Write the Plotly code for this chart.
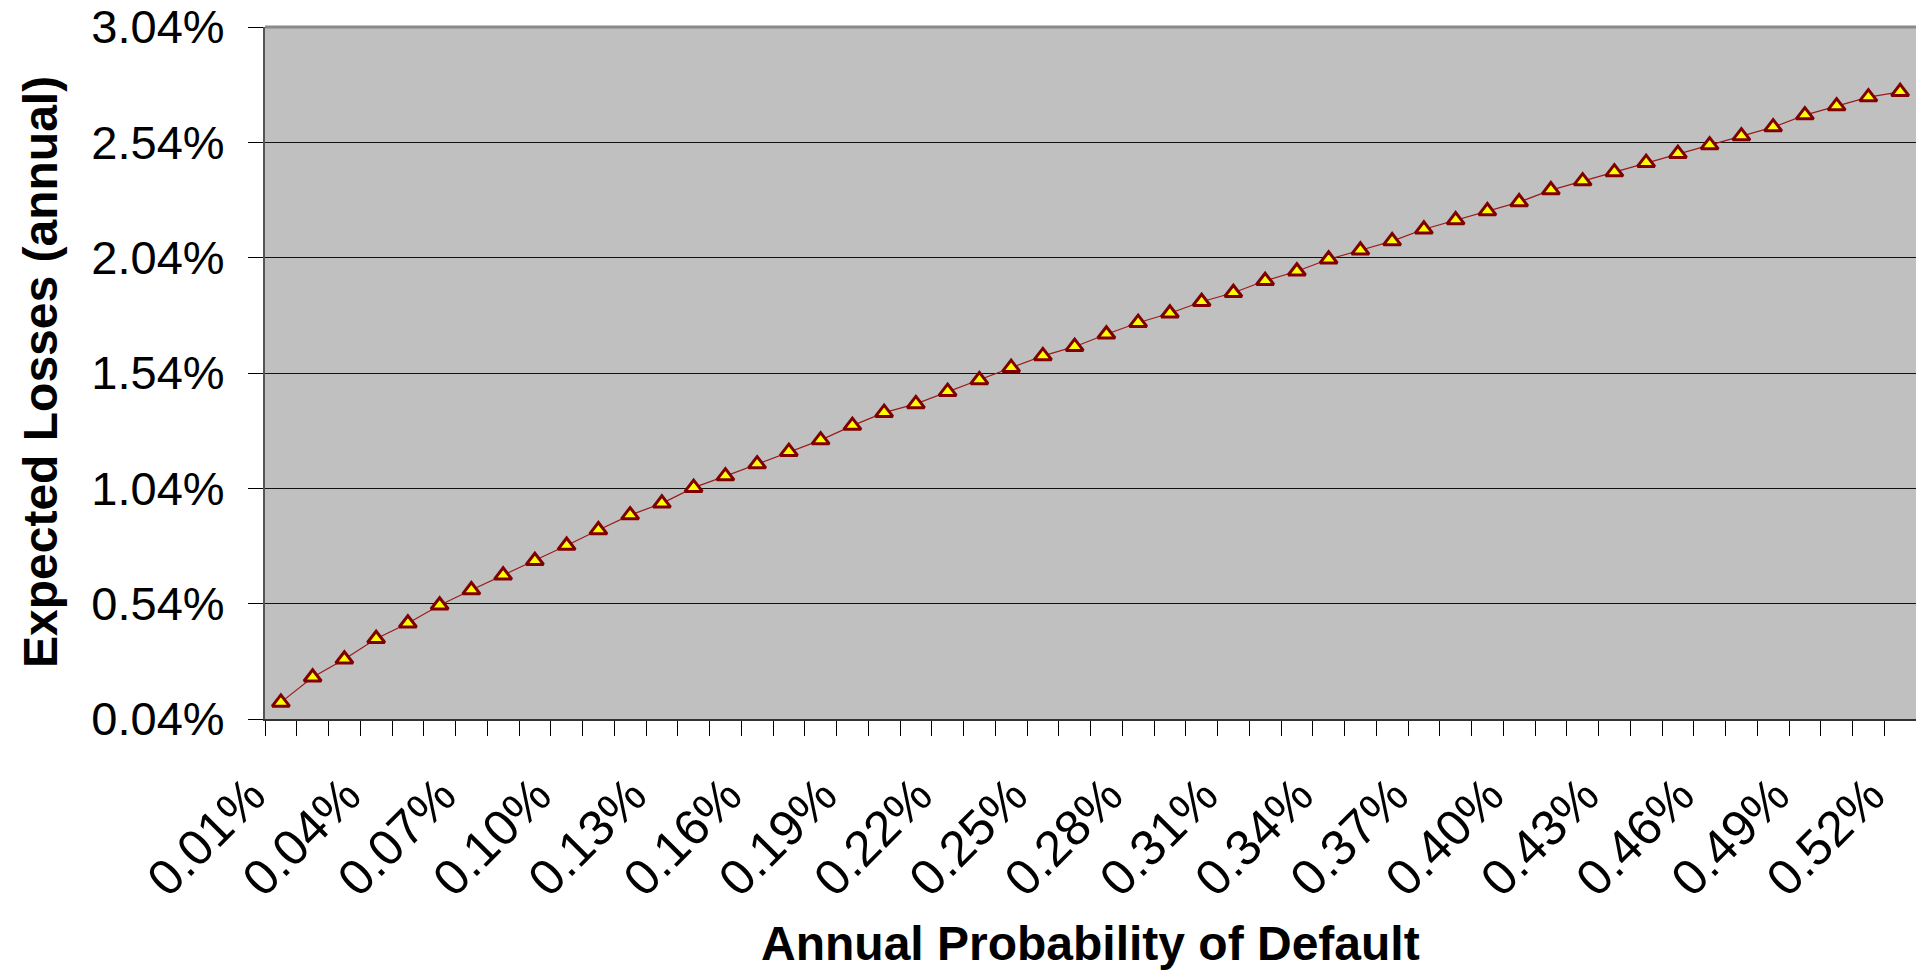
import plotly.graph_objects as go

# Annual probability of default (in %), one per category
pd_values = [round(0.01 * i, 2) for i in range(1, 53)]
pd_labels = [f"{v:.2f}%" for v in pd_values]

# Expected losses (annual, in %)
expected_losses = [
    0.112, 0.221, 0.299, 0.388, 0.455, 0.533, 0.599, 0.663, 0.726, 0.792,
    0.859, 0.924, 0.975, 1.043, 1.093, 1.145, 1.199, 1.249, 1.312, 1.368,
    1.406, 1.459, 1.510, 1.563, 1.614, 1.654, 1.708, 1.758, 1.799, 1.849,
    1.888, 1.940, 1.981, 2.033, 2.072, 2.112, 2.163, 2.203, 2.242, 2.281,
    2.333, 2.372, 2.411, 2.452, 2.491, 2.528, 2.567, 2.606, 2.658, 2.697,
    2.736, 2.759,
]

y_ticks = [0.04, 0.54, 1.04, 1.54, 2.04, 2.54, 3.04]

label_idx = list(range(0, len(pd_values), 3))
x_tickvals = [pd_values[i] for i in label_idx]
x_ticktext = [pd_labels[i] for i in label_idx]
boundaries = [round(v - 0.005, 3) for v in pd_values] + [round(pd_values[-1] + 0.005, 3)]

FONT = "Liberation Sans, Arial, sans-serif"

fig = go.Figure()
fig.add_trace(go.Scatter(
    x=pd_values,
    y=expected_losses,
    mode="lines+markers",
    line=dict(color="#9B1B1B", width=1.2),
    marker=dict(symbol="triangle-up", size=15, color="#FFFF00",
                line=dict(color="#800000", width=3)),
    showlegend=False,
))

fig.update_layout(
    width=1916, height=974,
    margin=dict(l=265, r=0, t=27, b=255),
    paper_bgcolor="white",
    plot_bgcolor="#C0C0C0",
    font=dict(family=FONT, color="black", size=46),
    xaxis=dict(
        range=[boundaries[0], boundaries[-1]],
        tickmode="array", tickvals=x_tickvals, ticktext=x_ticktext,
        tickangle=-45, ticks="", showgrid=False, zeroline=False,
        showline=True, linecolor="#333333", linewidth=2,
        tickfont=dict(size=50),
        ticklabeloverflow="allow",
        ticklabelstandoff=25, ticklabelshift=-30,
        minor=dict(tickmode="array", tickvals=boundaries, ticks="outside",
                   ticklen=15, tickcolor="black", tickwidth=1, showgrid=False),
    ),
    yaxis=dict(
        range=[0.04, 3.04],
        tickmode="array", tickvals=y_ticks,
        ticktext=[f"{v:.2f}%" for v in y_ticks],
        ticks="outside", ticklen=15, tickcolor="black",
        ticklabelstandoff=14,
        showgrid=True, gridcolor="#111111", gridwidth=1,
        zeroline=False, showline=True, linecolor="#555555", linewidth=2,
        tickfont=dict(size=47),
    ),
    shapes=[dict(type="line", xref="paper", yref="paper", x0=0, x1=1, y0=1, y1=1,
                 line=dict(color="#8A8A8A", width=3))],
    annotations=[
        dict(text="<b>Expected Losses (annual)</b>", textangle=-90,
             xref="paper", yref="paper", x=(40 - 265) / 1651, y=(719 - 372) / 692,
             xanchor="center", yanchor="middle", showarrow=False,
             font=dict(size=48, family=FONT)),
        dict(text="<b>Annual Probability of Default</b>",
             xref="paper", yref="paper", x=0.5, y=-(943 - 719) / 692,
             xanchor="center", yanchor="middle", showarrow=False,
             font=dict(size=48, family=FONT)),
    ],
)

fig.write_html("out.html")
